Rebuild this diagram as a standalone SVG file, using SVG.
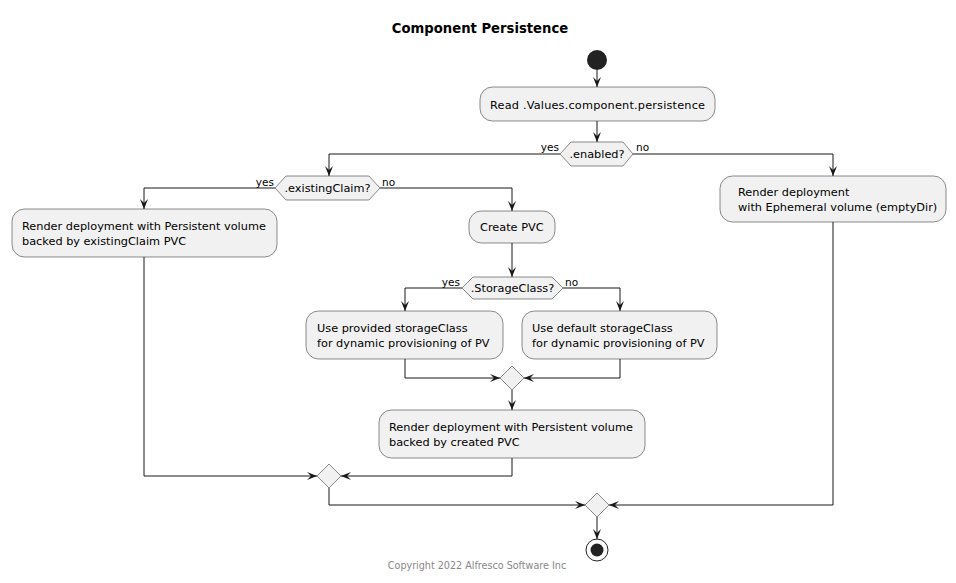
<svg xmlns="http://www.w3.org/2000/svg" width="956" height="583" viewBox="0 0 956 583">
<style>
.bg{fill:#FFFFFF}
.box{fill:#F1F1F1;stroke:#181818;stroke-width:0.5}
.dia{fill:#F1F1F1;stroke:#181818;stroke-width:0.5}
.t{font-family:"DejaVu Sans",sans-serif;font-size:11.3px;fill:#000000}
.lbl{font-family:"DejaVu Sans",sans-serif;font-size:10.5px;fill:#000000}
.title{font-family:"DejaVu Sans",sans-serif;font-size:13.2px;font-weight:bold;fill:#000000}
.copy{font-family:"DejaVu Sans",sans-serif;font-size:9.6px;fill:#888888}
.ln{fill:none;stroke:#181818;stroke-width:1}
</style>
<defs>
<marker id="arr" viewBox="0 0 10 8" refX="10" refY="4" markerWidth="10" markerHeight="8" markerUnits="userSpaceOnUse" orient="auto">
<path d="M0,0 L10,4 L0,8 L4,4 Z" fill="#181818"/>
</marker>
</defs>
<rect class="bg" x="0" y="0" width="956" height="583"/>
<text class="title" x="480" y="33" text-anchor="middle">Component Persistence</text>

<g id="connectors">
<path class="ln" d="M597,70 L597,87" marker-end="url(#arr)"/>
<path class="ln" d="M597,121 L597,142" marker-end="url(#arr)"/>
<path class="ln" d="M560,154 L329,154 L329,176" marker-end="url(#arr)"/>
<path class="ln" d="M633,154 L833,154 L833,176" marker-end="url(#arr)"/>
<path class="ln" d="M275,188 L144,188 L144,209" marker-end="url(#arr)"/>
<path class="ln" d="M380,188 L512,188 L512,211" marker-end="url(#arr)"/>
<path class="ln" d="M512,243 L512,277" marker-end="url(#arr)"/>
<path class="ln" d="M462,288 L405,288 L405,311" marker-end="url(#arr)"/>
<path class="ln" d="M563,288 L620,288 L620,311" marker-end="url(#arr)"/>
<path class="ln" d="M405,359 L405,378 L500,378" marker-end="url(#arr)"/>
<path class="ln" d="M620,359 L620,378 L524,378" marker-end="url(#arr)"/>
<path class="ln" d="M512,390 L512,410" marker-end="url(#arr)"/>
<path class="ln" d="M144,257 L144,476 L317,476" marker-end="url(#arr)"/>
<path class="ln" d="M512,458 L512,476 L341,476" marker-end="url(#arr)"/>
<path class="ln" d="M329,488 L329,505 L585,505" marker-end="url(#arr)"/>
<path class="ln" d="M833,222 L833,505 L609,505" marker-end="url(#arr)"/>
<path class="ln" d="M597,517 L597,539" marker-end="url(#arr)"/>
<text class="lbl" x="559" y="151" text-anchor="end">yes</text>
<text class="lbl" x="636" y="151">no</text>
<text class="lbl" x="274" y="186" text-anchor="end">yes</text>
<text class="lbl" x="382" y="186">no</text>
<text class="lbl" x="460" y="286" text-anchor="end">yes</text>
<text class="lbl" x="565" y="286">no</text>
</g>

<g id="start"><circle cx="597" cy="60" r="10" fill="#222222"/></g>

<g id="read">
<rect class="box" x="480" y="87" width="235" height="34" rx="12.5"/>
<text class="t" x="490" y="109" textLength="215">Read .Values.component.persistence</text>
</g>

<g id="enabled">
<polygon class="dia" points="560,154 571,142 623,142 633,154 623,166 571,166"/>
<text class="t" x="597" y="158" text-anchor="middle">.enabled?</text>
</g>

<g id="existingClaim">
<polygon class="dia" points="275,188 286,176 369,176 380,188 369,200 286,200"/>
<text class="t" x="327.5" y="192" text-anchor="middle">.existingClaim?</text>
</g>

<g id="ephemeral">
<rect class="box" x="720" y="176" width="226" height="46" rx="12.5"/>
<text class="t" x="738" y="196">Render deployment</text>
<text class="t" x="738" y="211">with Ephemeral volume (emptyDir)</text>
</g>

<g id="existingPVC">
<rect class="box" x="12" y="209" width="265" height="48" rx="12.5"/>
<text class="t" x="22" y="230">Render deployment with Persistent volume</text>
<text class="t" x="22" y="245">backed by existingClaim PVC</text>
</g>

<g id="createPVC">
<rect class="box" x="469" y="211" width="86" height="32" rx="12.5"/>
<text class="t" x="480" y="231">Create PVC</text>
</g>

<g id="storageClass">
<polygon class="dia" points="462,288 473,277 552,277 563,288 552,299 473,299"/>
<text class="t" x="512.5" y="292" text-anchor="middle">.StorageClass?</text>
</g>

<g id="provided">
<rect class="box" x="306" y="311" width="197" height="48" rx="12.5"/>
<text class="t" x="317" y="332">Use provided storageClass</text>
<text class="t" x="317" y="347">for dynamic provisioning of PV</text>
</g>

<g id="default">
<rect class="box" x="522" y="311" width="195" height="48" rx="12.5"/>
<text class="t" x="532" y="332">Use default storageClass</text>
<text class="t" x="532" y="347">for dynamic provisioning of PV</text>
</g>

<g id="merge1"><polygon class="dia" points="500,378 512,366 524,378 512,390"/></g>

<g id="createdPVC">
<rect class="box" x="379" y="410" width="266" height="48" rx="12.5"/>
<text class="t" x="389" y="431">Render deployment with Persistent volume</text>
<text class="t" x="389" y="446">backed by created PVC</text>
</g>

<g id="merge2"><polygon class="dia" points="317,476 329,464 341,476 329,488"/></g>
<g id="merge3"><polygon class="dia" points="585,505 597,493 609,505 597,517"/></g>

<g id="end">
<circle cx="597" cy="550" r="11" fill="none" stroke="#222222" stroke-width="1"/>
<circle cx="597" cy="550" r="6.5" fill="#222222"/>
</g>

<text class="copy" x="477" y="569" text-anchor="middle">Copyright 2022 Alfresco Software Inc</text>
</svg>
